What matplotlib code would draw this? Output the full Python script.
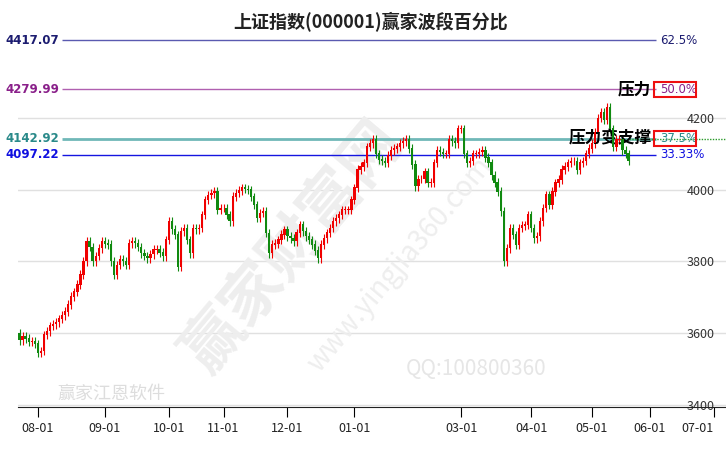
import numpy as np
import matplotlib.pyplot as plt

plt.rcParams['font.family'] = ['Noto Sans CJK SC', 'DejaVu Sans']

# daily closes
closes = [3580, 3590, 3585, 3575, 3578, 3570, 3545, 3550, 3595, 3605,
          3620, 3625, 3630, 3640, 3650, 3660, 3680, 3702, 3715, 3735,
          3763, 3800, 3856, 3840, 3800, 3815, 3837, 3856, 3850, 3847,
          3800, 3763, 3790, 3805, 3800, 3791, 3851, 3855, 3851, 3840,
          3823, 3815, 3809, 3820, 3833, 3833, 3825, 3814, 3860, 3912,
          3890, 3874, 3786, 3884, 3893, 3860, 3823, 3893, 3890, 3893,
          3930, 3972, 3985, 3990, 3995, 3944, 3949, 3949, 3930, 3912,
          3981, 3991, 3998, 4005, 4002, 4000, 3980, 3958, 3921, 3935,
          3940, 3879, 3823, 3847, 3850, 3860, 3875, 3888, 3870, 3865,
          3856, 3880, 3902, 3884, 3870, 3860, 3847, 3830, 3809, 3847,
          3865, 3880, 3893, 3912, 3920, 3930, 3944, 3944, 3944, 3972,
          4005, 4056, 4065, 4075, 4120, 4130, 4140, 4100, 4084, 4080,
          4075, 4095, 4110, 4115, 4120, 4130, 4135, 4140, 4115, 4070,
          4010, 4030, 4030, 4050, 4020, 4020, 4075, 4110, 4105, 4100,
          4100, 4140, 4135, 4130, 4170, 4170, 4100, 4075, 4080, 4100,
          4100, 4105, 4110, 4090, 4075, 4040, 4020, 3995, 3940, 3800,
          3837, 3893, 3874, 3847, 3893, 3900, 3902, 3930, 3893, 3865,
          3870, 3912, 3949, 3986, 3958, 3995, 4019, 4028, 4056, 4065,
          4075, 4080, 4080, 4056, 4075, 4080, 4100, 4115, 4130, 4160,
          4200, 4215, 4195, 4230, 4170, 4120, 4140, 4140, 4110, 4100,
          4080]
first_open = 3600
wick = 12

tick_pos = [6, 28, 49, 67, 88, 110, 145, 168, 188, 207, 228]
tick_labels = ['08-01', '09-01', '10-01', '11-01', '12-01', '01-01',
               '03-01', '04-01', '05-01', '06-01', '07-01']

fib_values = [4417.07, 4279.99, 4142.92, 4097.22]
fib_pcts = ['62.5%', '50.0%', '37.5%', '33.33%']
fib_line_colors = ['#5a5ab0', '#b060b0', '#70b8b8', '#1515e0']
fib_text_colors = ['#1c1c70', '#8a208a', '#2a8a8a', '#1010e0']

fig = plt.figure(figsize=(7.26, 4.5), dpi=100)
ax = fig.add_axes([18 / 726, 43 / 450, 1 - 18 / 726, 372 / 450])

closes = np.array(closes, dtype=float)
opens = np.concatenate([[first_open], closes[:-1]])
idx = np.arange(len(closes))
up = closes >= opens
cols = np.where(up, '#f00000', '#108a10')
highs = np.maximum(opens, closes) + wick
lows = np.minimum(opens, closes) - wick
ax.vlines(idx, lows, highs, colors=cols, linewidth=0.8, zorder=3)
ax.bar(idx, np.abs(closes - opens) + 1.5, bottom=np.minimum(opens, closes),
       width=0.75, color=cols, zorder=4)

for v, p, lc, tc in zip(fib_values, fib_pcts, fib_line_colors, fib_text_colors):
    ax.hlines(v, 13.8, 209, colors=lc, linewidth=1.0 if lc != '#70b8b8' else 2, zorder=2)
    ax.text(-4.5, v, '%.2f' % v, color=tc, fontsize=8.5, fontweight='bold',
            va='center', ha='left', family='DejaVu Sans')
    ax.text(210.5, v, p, color=tc, fontsize=8.5, va='center', ha='left',
            family='DejaVu Sans')
    if p in ('50.0%', '37.5%'):
        ax.add_patch(plt.Rectangle((208.5, v - 22), 13.5, 44, fill=False,
                                   edgecolor='#ee1010', linewidth=1.5, zorder=5))
ax.hlines(4142.92, 200, 232, colors='#2a9a2a', linestyles=(0, (1, 1)), linewidth=1)

ax.text(207.5, 4279.99, '压力', fontsize=12, fontweight='bold', ha='right', va='center')
ax.text(207.5, 4142.92, '压力变支撑', fontsize=12, fontweight='bold', ha='right', va='center')

# watermarks
ax.text(150, 3500, 'QQ:100800360', fontsize=15, color='#e6e6e6', ha='center', va='center', zorder=1)
ax.text(90, 3840, '赢家财富网', fontsize=44, color='#eeeeee', rotation=50,
        ha='center', va='center', zorder=1, fontweight='bold')
ax.text(125, 3790, 'www.yingjia360.com', fontsize=20, color='#eeeeee', rotation=50,
        ha='center', va='center', zorder=1)
ax.text(30, 3430, '赢家江恩软件', fontsize=13, color='#dddddd', ha='center', va='center', zorder=1)

ax.set_xlim(-0.5, 232)
ax.set_ylim(3394, 4432)
ax.set_yticks([3400, 3600, 3800, 4000, 4200])
ax.yaxis.tick_right()
ax.tick_params(axis='y', direction='in', length=0, pad=-28, labelsize=9, labelcolor='#333333')
ax.grid(axis='y', color='#e0e0e0', linewidth=1)
ax.set_xticks(tick_pos)
ax.set_xticklabels(tick_labels)
ax.tick_params(axis='x', direction='out', length=7, labelsize=9, labelcolor='#222222')
ax.get_xticklabels()[-1].set_horizontalalignment('right')
ax.get_xticklabels()[-1].set_x(229.5)
for s in ['top', 'right', 'left']:
    ax.spines[s].set_visible(False)
ax.spines['bottom'].set_color('#222222')
ax.set_axisbelow(True)

fig.text(0.51, 0.95, '上证指数(000001)赢家波段百分比', fontsize=13, fontweight='bold',
         ha='center', va='center', color='#222222')

fig.savefig('out.png', dpi=100)
